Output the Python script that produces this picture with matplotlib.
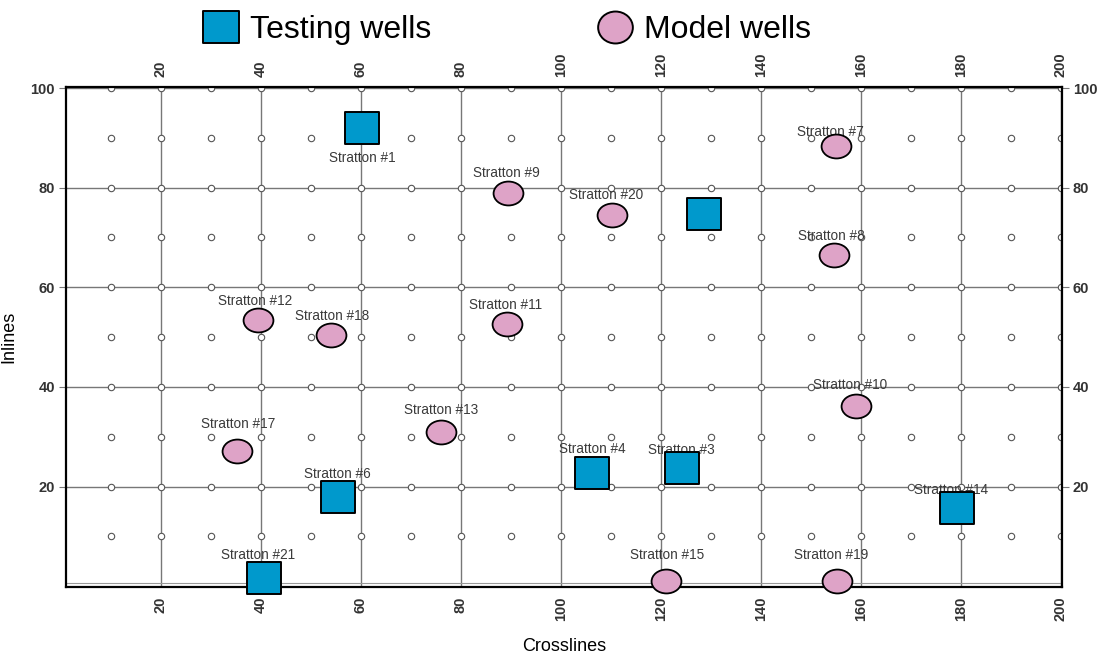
import numpy as np
import matplotlib
matplotlib.use("Agg")
import matplotlib.pyplot as plt
from matplotlib.path import Path
from matplotlib.lines import Line2D

plt.rcParams["font.family"] = ["Liberation Sans", "DejaVu Sans"]

# survey layout
GRID_X = np.arange(10, 201, 10)
GRID_Y = np.arange(10, 101, 10)
MAJOR_X = np.arange(20, 201, 20)
MAJOR_Y = np.arange(20, 101, 20)

# testing wells (crossline, inline)
test_names = ["Stratton #1", "", "Stratton #4", "Stratton #3", "Stratton #6",
              "Stratton #21", "Stratton #14"]
test_x = [60.2, 128.6, 106.2, 124.2, 55.4, 40.6, 179.2]
test_y = [92.0, 74.8, 22.8, 23.8, 17.8, 1.6, 15.6]

# model wells
model_names = ["Stratton #7", "Stratton #9", "Stratton #20", "Stratton #8",
               "Stratton #12", "Stratton #18", "Stratton #11", "Stratton #10",
               "Stratton #13", "Stratton #17", "Stratton #15", "Stratton #19"]
model_x = [155.0, 89.4, 110.2, 154.6, 39.4, 54.0, 89.2, 159.0, 76.0, 35.2, 121.0, 155.2]
model_y = [88.4, 79.0, 74.6, 66.4, 53.4, 50.4, 52.6, 36.2, 31.0, 27.2, 1.0, 1.0]

# label placement relative to the symbol, in points
label_offset = {
    "Stratton #1": (0, -22), "Stratton #4": (0, 17), "Stratton #3": (0, 13),
    "Stratton #6": (0, 17), "Stratton #21": (-4, 17), "Stratton #14": (-4, 13),
    "Stratton #7": (-4, 10), "Stratton #9": (-1, 14), "Stratton #20": (-4, 14),
    "Stratton #8": (-2, 14), "Stratton #12": (-2, 14), "Stratton #18": (1, 14),
    "Stratton #11": (-1, 14), "Stratton #10": (-4, 15), "Stratton #13": (0, 16),
    "Stratton #17": (1, 19), "Stratton #15": (1, 19), "Stratton #19": (-4, 19),
}

BLUE = "#0099cc"
PINK = "#dea3c7"
GRID = "#777777"
TICK = "#333333"

circ = Path.unit_circle()
ellipse = Path(circ.vertices * [1.0, 0.8], circ.codes)
ellipse_leg = Path(circ.vertices * [1.0, 0.92], circ.codes)
rect = Path([(-1, -0.9), (1, -0.9), (1, 0.9), (-1, 0.9), (-1, -0.9)],
            [Path.MOVETO, Path.LINETO, Path.LINETO, Path.LINETO, Path.CLOSEPOLY])

fig = plt.figure(figsize=(10.98, 6.56), dpi=100)
ax = fig.add_axes([0.060, 0.105, 0.907, 0.763])

ax.set_xlim(1, 200.2)
ax.set_ylim(-0.2, 100.3)

# major grid
for x in MAJOR_X:
    ax.axvline(x, color=GRID, lw=1.0, zorder=1)
for y in MAJOR_Y:
    ax.axhline(y, color=GRID, lw=1.0, zorder=1)
ax.axhline(0.6, color="#999999", lw=0.8, zorder=1)

# bin centres
gx, gy = np.meshgrid(GRID_X, GRID_Y)
ax.plot(gx.ravel(), gy.ravel(), "o", ms=4.6, mfc="white", mec="#555555",
        mew=0.8, ls="none", zorder=2)

# well labels sit under the symbols
for names, xs, ys in ((test_names, test_x, test_y), (model_names, model_x, model_y)):
    for n, x, y in zip(names, xs, ys):
        if not n:
            continue
        ax.annotate(n, (x, y), xytext=label_offset[n], textcoords="offset points",
                    ha="center", va="center", fontsize=9.8, color="#3a3a3a", zorder=3)

ax.plot(test_x, test_y, marker=rect, ms=25, mfc=BLUE, mec="black", mew=1.4,
        ls="none", zorder=4, clip_on=False)
ax.plot(model_x, model_y, marker=ellipse, ms=21.5, mfc=PINK, mec="black", mew=1.3,
        ls="none", zorder=4, clip_on=False)

for s in ax.spines.values():
    s.set_linewidth(1.6)
    s.set_color("black")

ax.set_xticks(MAJOR_X)
ax.set_yticks(MAJOR_Y)
ax.tick_params(axis="x", which="both", top=True, labeltop=True, length=0, pad=7,
               labelrotation=90, labelsize=10.5, labelcolor=TICK)
ax.tick_params(axis="y", which="both", right=True, labelright=True, length=5,
               color=GRID, pad=3, labelsize=10.5, labelcolor=TICK)
for lab in ax.get_xticklabels() + ax.get_yticklabels():
    lab.set_fontweight("bold")

ax.set_xlabel("Crosslines", fontsize=13, labelpad=12)
ax.set_ylabel("Inlines", fontsize=13, labelpad=9)

handles = [
    Line2D([], [], marker=rect, ms=26, mfc=BLUE, mec="black", mew=1.4, ls="none"),
    Line2D([], [], marker=ellipse_leg, ms=25, mfc=PINK, mec="black", mew=1.4, ls="none"),
]
fig.legend(handles, ["Testing wells", "Model wells"], loc="upper center",
           bbox_to_anchor=(0.462, 1.021), ncol=2, frameon=False, fontsize=23,
           handletextpad=0.35, columnspacing=5.2, handlelength=1.1)

fig.savefig("out.png", dpi=100)
